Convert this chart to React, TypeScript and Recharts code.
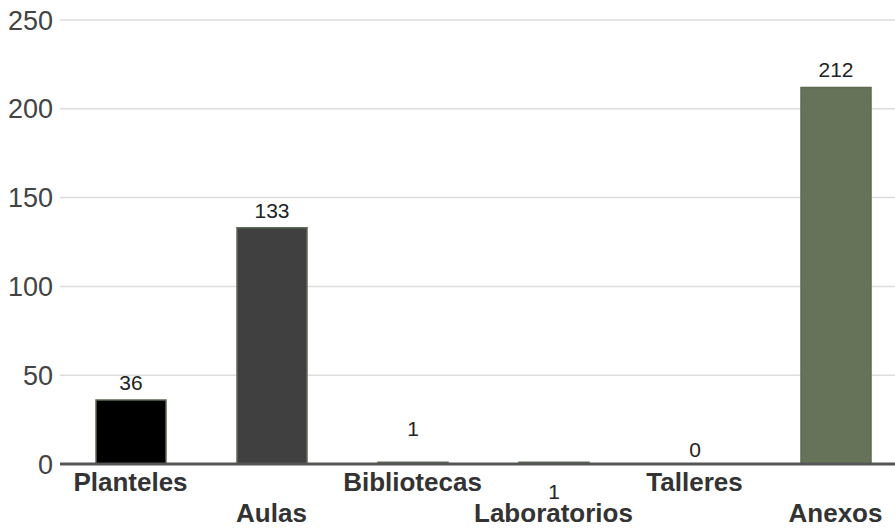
import { BarChart, Bar, XAxis, YAxis, CartesianGrid, Cell, LabelList } from "recharts";

const categories = ["Planteles", "Aulas", "Bibliotecas", "Laboratorios", "Talleres", "Anexos"];
const values = [36, 133, 1, 1, 0, 212];
const yTicks = [0, 50, 100, 150, 200, 250];

const colors = ["#000000", "#404040", "#a9b59c", "#555a50", "#8a9a7a", "#667359"];
// the source nudges a few value labels off their usual spot
const labelShift: Record<string, number> = { Bibliotecas: -16, Laboratorios: 47, Talleres: 4 };

const data = categories.map((name, i) => ({ name, value: values[i] }));

const font = "'Liberation Sans', Arial, sans-serif";

function XTick(props: any) {
  const { x, y, payload } = props;
  const row = payload.index % 2;
  return (
    <text
      x={x}
      y={y + 27 + row * 31}
      textAnchor="middle"
      fontFamily={font}
      fontSize={26}
      fontWeight="bold"
      fill="#333"
    >
      {payload.value}
    </text>
  );
}

function ValueLabel(props: any) {
  const { x, y, width, value, index } = props;
  const shift = labelShift[categories[index]] || 0;
  return (
    <text
      x={x + width / 2}
      y={y - 10 + shift}
      textAnchor="middle"
      fontFamily={font}
      fontSize={21}
      fill="#222"
    >
      {value}
    </text>
  );
}

export default function App() {
  return (
    <div style={{ position: "absolute", left: 0, top: 0, width: 895, height: 529, overflow: "hidden", background: "#fff" }}>
      <BarChart
        width={906}
        height={529}
        data={data}
        margin={{ top: 20, right: 0, bottom: 0, left: 0 }}
      >
        <CartesianGrid vertical={false} stroke="#dcdcdc" strokeWidth={1.5} />
        <YAxis
          width={60}
          domain={[0, 250]}
          ticks={yTicks}
          axisLine={false}
          tickLine={false}
          tickSize={0}
          tickMargin={7}
          tick={{ fontFamily: font, fontSize: 27, fill: "#444" }}
        />
        <XAxis
          dataKey="name"
          height={65}
          interval={0}
          tickLine={false}
          tickSize={0}
          tickMargin={0}
          axisLine={{ stroke: "#555", strokeWidth: 3 }}
          tick={<XTick />}
        />
        <Bar
          dataKey="value"
          barSize={70}
          stroke="#5d6a52"
          strokeWidth={1.5}
          minPointSize={(v: number) => (v === 0 ? 1 : 0)}
          isAnimationActive={false}
        >
          {data.map((d, i) => (
            <Cell
              key={d.name}
              fill={d.value === 0 ? "none" : colors[i]}
              stroke={d.value === 0 ? "none" : "#5d6a52"}
            />
          ))}
          <LabelList dataKey="value" content={<ValueLabel />} />
        </Bar>
      </BarChart>
    </div>
  );
}
